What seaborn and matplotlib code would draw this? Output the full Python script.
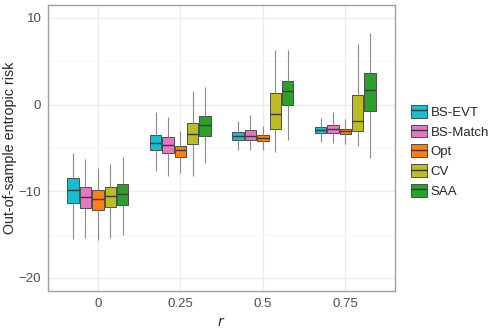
import pandas as pd
import matplotlib
matplotlib.use('Agg')
import matplotlib.pyplot as plt
import seaborn as sns
from matplotlib.ticker import MultipleLocator
from matplotlib.lines import Line2D

r_levels = ['0', '0.25', '0.5', '0.75']
methods = ['BS-EVT', 'BS-Match', 'Opt', 'CV', 'SAA']
colors = ['#17becf', '#e377c2', '#ff7f0e', '#bcbd22', '#2ca02c']

# five-number summaries, rows = r, cols = method
lows = [[-15.45, -15.34, -15.57, -15.34, -15.08],
        [-7.66, -8.23, -7.89, -8.28, -6.73],
        [-5.20, -5.20, -5.28, -5.46, -4.12],
        [-4.31, -4.42, -4.50, -4.77, -6.15]]
q1s = [[-11.30, -11.88, -12.11, -11.81, -11.53],
       [-5.28, -5.54, -6.04, -4.58, -3.61],
       [-4.04, -4.04, -4.16, -2.85, -0.08],
       [-3.27, -3.23, -3.38, -3.08, -0.73]]
meds = [[-9.88, -10.65, -10.84, -10.57, -10.26],
        [-4.42, -4.62, -5.28, -3.35, -2.39],
        [-3.61, -3.61, -3.81, -1.04, 1.54],
        [-2.97, -2.77, -3.08, -1.93, 1.73]]
q3s = [[-8.41, -9.50, -9.80, -9.50, -9.11],
       [-3.55, -3.78, -4.77, -2.08, -1.30],
       [-3.15, -2.97, -3.46, 1.39, 2.69],
       [-2.58, -2.31, -2.77, 1.07, 3.66]]
highs = [[-5.57, -6.30, -7.26, -6.88, -6.03],
         [-0.84, -1.42, -3.08, 1.54, 2.04],
         [-1.88, -1.24, -2.46, 6.27, 6.35],
         [-1.50, -0.84, -1.70, 7.04, 8.31]]

def main():
    rows = []
    for i, r in enumerate(r_levels):
        for j, m in enumerate(methods):
            for v in [lows[i][j], q1s[i][j], meds[i][j], q3s[i][j], highs[i][j]]:
                rows.append({'r': r, 'method': m, 'value': v})
    df = pd.DataFrame(rows)

    sns.set_style('white')
    plt.rcParams['font.family'] = ['Liberation Sans', 'DejaVu Sans']

    fig = plt.figure(figsize=(4.98, 3.32), dpi=100)
    ax = fig.add_axes([0.097, 0.1235, 0.696, 0.8615])

    sns.boxplot(data=df, x='r', y='value', hue='method', order=r_levels, hue_order=methods,
                palette=colors, whis=(0, 100), width=0.75, gap=0.08, showcaps=False,
                linewidth=0.7, linecolor='#4d4d4d', saturation=1, ax=ax,
                whiskerprops={'color': '#8a8a8a', 'linewidth': 0.8},
                medianprops={'color': '#3a3a3a', 'linewidth': 1.0})

    ax.set_xlim(-0.6, 3.6)
    ax.set_ylim(-21.5, 11.5)
    ax.yaxis.set_major_locator(MultipleLocator(10))
    ax.yaxis.set_minor_locator(MultipleLocator(5))
    ax.grid(True, which='major', color='#ebebeb', linewidth=1.0)
    ax.grid(True, which='minor', axis='y', color='#f4f4f4', linewidth=0.6)
    ax.set_axisbelow(True)
    for s in ax.spines.values():
        s.set_color('#a0a0a0')
        s.set_linewidth(1.0)
    ax.tick_params(axis='both', which='major', length=3, width=0.8, color='#a0a0a0',
                   labelsize=9.5, labelcolor='#4d4d4d', pad=2)
    ax.tick_params(axis='y', which='minor', length=0)
    ax.set_xlabel('$r$', fontsize=10, labelpad=4)
    ax.set_ylabel('Out-of-sample entropic risk', fontsize=10.3, labelpad=1)

    handles, labels = ax.get_legend_handles_labels()
    ax.legend_.remove()
    # add the median stroke to each key, like the boxplot glyph
    handles = [(h, Line2D([], [], color='#3a3a3a', lw=1.0)) for h in handles]
    fig.legend(handles, labels, loc='center left', bbox_to_anchor=(0.825, 0.544),
               frameon=False, fontsize=9.5, handlelength=1.2, handleheight=1.1,
               handletextpad=0.3, labelspacing=0.45, borderaxespad=0, borderpad=0)

    fig.savefig('out.png', dpi=100)

if __name__ == '__main__':
    main()
